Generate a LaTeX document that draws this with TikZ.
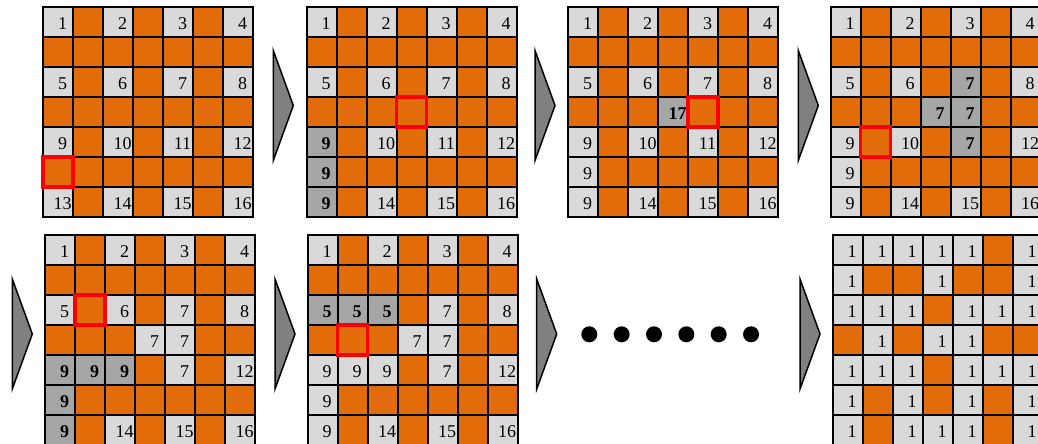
\documentclass[tikz,border=0pt]{standalone}
\usepackage{fontspec}
\setmainfont{Liberation Serif}

\definecolor{cellorange}{RGB}{227,108,10}
\definecolor{celllight}{RGB}{217,217,217}
\definecolor{celldark}{RGB}{166,166,166}
\definecolor{arrowgray}{RGB}{128,128,128}

\newcommand{\numfont}{\fontsize{18}{20}\selectfont}

\tikzset{
    cell/.style={
        draw,
        line width=1.6pt,
        minimum size=30pt,
        inner sep=0pt,
        outer sep=0pt
    },
    wallcell/.style={cell, fill=cellorange},
    opencell/.style={cell, fill=celllight, label={[num]center:#1}},
    mergedcell/.style={cell, fill=celldark, label={[num, font=\numfont\bfseries]center:#1}},
    num/.style={font=\numfont, inner sep=0pt, xshift=4.5pt, yshift=-1.5pt},
    currentcell/.style={draw=red, line width=3.5pt, minimum size=30pt, inner sep=0pt},
    stagearrow/.style={draw, fill=arrowgray, line width=1.5pt, line join=miter},
    dot/.style={circle, fill=black, minimum size=16pt, inner sep=0pt}
}

% wall cells everywhere, numbered open cells on the even rows and columns
% (#4 lists the open cells that a stage redraws itself)
\newcommand{\drawgrid}[4]{%
    \foreach \s in {#4} {
        \expandafter\gdef\csname skip#1-\s\endcsname{}
    }
    \foreach \r in {0,...,6}
        \foreach \c in {0,...,6}
            \node[wallcell] (#1-\r-\c) at (#2+30*\c+15, #3+30*\r+15) {};
    \foreach \r in {0,2,4,6}
        \foreach \c in {0,2,4,6} {
            \ifcsname skip#1-\r/\c\endcsname\else
                \pgfmathtruncatemacro{\n}{2*\r+\c/2+1}
                \node[opencell=\n] (#1-\r-\c) at (#2+30*\c+15, #3+30*\r+15) {};
            \fi
        }
}

\begin{document}
\begin{tikzpicture}[x=1pt, y=-1pt]
\useasboundingbox (0,0) rectangle (1038,444);
\clip (0,0) rectangle (1038,444);

% first row
\drawgrid{g1}{43}{7}{}
\node[currentcell] (g1-cur) at (g1-5-0) {};

\drawgrid{g2}{306.7}{7}{4/0, 6/0}
\foreach \r in {4,5,6}
    \node[mergedcell=9] (g2-m\r) at (g2-\r-0) {};
\node[currentcell] (g2-cur) at (g2-3-3) {};

\drawgrid{g3}{568}{7}{6/0}
\foreach \r in {5,6}
    \node[opencell=9] (g3-o\r) at (g3-\r-0) {};
\node[mergedcell=17] (g3-m) at (g3-3-3) {};
\node[currentcell] (g3-cur) at (g3-3-4) {};

\drawgrid{g4}{830.7}{7}{6/0, 2/4, 4/4}
\foreach \r in {5,6}
    \node[opencell=9] (g4-o\r) at (g4-\r-0) {};
\foreach \r/\c in {2/4, 3/3, 3/4, 4/4}
    \node[mergedcell=7] (g4-m\r\c) at (g4-\r-\c) {};
\node[currentcell] (g4-cur) at (g4-4-1) {};

% second row
\drawgrid{g5}{45}{235}{4/0, 4/2, 4/4, 6/0}
\foreach \r/\c in {3/3, 3/4, 4/4}
    \node[opencell=7] (g5-o\r\c) at (g5-\r-\c) {};
\foreach \r/\c in {4/0, 4/1, 4/2, 5/0, 6/0}
    \node[mergedcell=9] (g5-m\r\c) at (g5-\r-\c) {};
\node[currentcell] (g5-cur) at (g5-2-1) {};

\drawgrid{g6}{307.7}{235}{2/0, 2/2, 4/2, 4/4, 6/0}
\foreach \r/\c in {3/3, 3/4, 4/4}
    \node[opencell=7] (g6-o\r\c) at (g6-\r-\c) {};
\foreach \r/\c in {4/1, 4/2, 5/0, 6/0}
    \node[opencell=9] (g6-n\r\c) at (g6-\r-\c) {};
\foreach \c in {0,1,2}
    \node[mergedcell=5] (g6-m\c) at (g6-2-\c) {};
\node[currentcell] (g6-cur) at (g6-3-1) {};

\foreach \k in {0,...,5}
    \node[dot] (dot\k) at (589.3+32.35*\k, 334.3) {};

% finished maze
\foreach \r/\cols in {0/{5}, 1/{1,2,4,5}, 2/{3}, 3/{0,2,5,6},
                      4/{3}, 5/{1,3,5}, 6/{1,5}}
    \foreach \c in \cols
        \node[wallcell] (g7-\r-\c) at (832.7+30*\c+15, 235+30*\r+15) {};
\foreach \r/\cols in {0/{0,1,2,3,4,6}, 1/{0,3,6}, 2/{0,1,2,4,5,6}, 3/{1,3,4},
                      4/{0,1,2,4,5,6}, 5/{0,2,4,6}, 6/{0,2,3,4,6}}
    \foreach \c in \cols
        \node[opencell=1] (g7-\r-\c) at (832.7+30*\c+15, 235+30*\r+15) {};

% arrows between the stages
\foreach \x/\y in {293.3/105.5, 555/105.5, 818.3/105.5,
                   32.3/334, 295/334, 556.7/334, 820/334}
    \draw[stagearrow] (\x,\y) -- ++(-20,-55) -- ++(0,110) -- cycle;
\end{tikzpicture}
\end{document}
